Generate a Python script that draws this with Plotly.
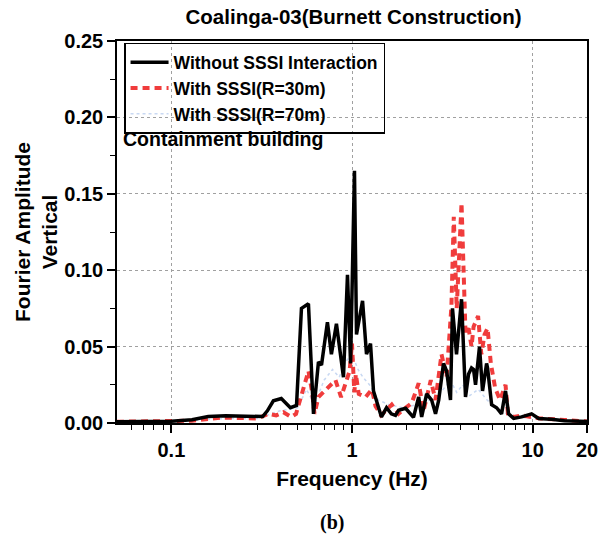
import math
import plotly.graph_objects as go

# Vertical Fourier amplitude spectra, Coalinga-03 record
freq_without = [0.05, 0.07, 0.1, 0.13, 0.16, 0.2, 0.23, 0.27, 0.32, 0.34, 0.367, 0.406, 0.43,
                0.456, 0.493, 0.525, 0.574, 0.612, 0.652, 0.678, 0.731, 0.769, 0.82, 0.897,
                0.944, 0.982, 1.032, 1.059, 1.144, 1.203, 1.266, 1.315, 1.456, 1.553, 1.65,
                1.741, 1.81, 1.98, 2.19, 2.34, 2.43, 2.59, 2.76, 2.90, 3.02, 3.13, 3.21, 3.34,
                3.51, 3.60, 3.79, 4.04, 4.25, 4.42, 4.59, 4.71, 4.83, 5.08, 5.28, 5.42, 5.56,
                5.63, 5.93, 6.32, 6.73, 7.08, 7.36, 7.85, 8.69, 9.87, 10.8, 12.7, 15, 20]
amp_without = [0.0008, 0.0009, 0.0012, 0.0022, 0.0042, 0.0048, 0.0045, 0.0040, 0.0042, 0.0080,
               0.0145, 0.0160, 0.0130, 0.0100, 0.0115, 0.0750, 0.0780, 0.0060, 0.0400, 0.0380,
               0.0660, 0.0450, 0.0650, 0.0300, 0.0970, 0.0390, 0.1650, 0.0580, 0.0800, 0.0450,
               0.0520, 0.0210, 0.0040, 0.0100, 0.0060, 0.0050, 0.0083, 0.0096, 0.0037, 0.0170,
               0.0040, 0.0190, 0.0150, 0.0060, 0.0150, 0.0300, 0.0390, 0.0340, 0.0150, 0.0750,
               0.0450, 0.0810, 0.0170, 0.0320, 0.0360, 0.0350, 0.0250, 0.0500, 0.0210, 0.0300,
               0.0390, 0.0360, 0.0120, 0.0100, 0.0060, 0.0210, 0.0060, 0.0030, 0.0040, 0.0060,
               0.0030, 0.0024, 0.0015, 0.0010]

freq_r30 = [0.05, 0.07, 0.1, 0.13, 0.19, 0.25, 0.3, 0.345, 0.38, 0.417, 0.46, 0.49, 0.52, 0.574,
            0.60, 0.62, 0.652, 0.71, 0.76, 0.81, 0.87, 0.93, 0.97, 1.0, 1.03, 1.05, 1.09, 1.19,
            1.29, 1.35, 1.45, 1.66, 1.81, 1.98, 2.14, 2.34, 2.49, 2.73, 2.90, 3.13, 3.34, 3.55,
            3.66, 3.80, 4.04, 4.25, 4.42, 4.59, 4.71, 4.99, 5.2, 5.42, 5.63, 5.87, 6.2, 6.6,
            7.08, 7.3, 7.85, 8.7, 9.5, 11, 15, 20]
amp_r30 = [0.0008, 0.0009, 0.0010, 0.0015, 0.0035, 0.0030, 0.0030, 0.0060, 0.0050, 0.0070,
           0.0040, 0.0060, 0.0170, 0.0340, 0.0210, 0.0060, 0.0170, 0.0210, 0.0250, 0.0280,
           0.0170, 0.0280, 0.0340, 0.0520, 0.0200, 0.0320, 0.0190, 0.0170, 0.0220, 0.0110,
           0.0050, 0.0120, 0.0060, 0.0100, 0.0130, 0.0260, 0.0080, 0.0280, 0.0150, 0.0450,
           0.0300, 0.0760, 0.1350, 0.0750, 0.1440, 0.0590, 0.0620, 0.0500, 0.0630, 0.0700,
           0.0450, 0.0580, 0.0620, 0.0390, 0.0230, 0.0150, 0.0250, 0.0060, 0.0040, 0.0050,
           0.0040, 0.0030, 0.0020, 0.0010]

freq_r70 = [0.05, 0.1, 0.2, 0.3, 0.4, 0.5, 0.56, 0.62, 0.7, 0.78, 0.85, 0.92, 1.0, 1.08, 1.15,
            1.25, 1.4, 1.6, 1.9, 2.3, 2.7, 3.1, 3.5, 3.8, 4.1, 4.5, 5.0, 5.6, 6.5, 8, 10, 14, 20]
amp_r70 = [0.0008, 0.0010, 0.0030, 0.0030, 0.0080, 0.0100, 0.0220, 0.0120, 0.0280, 0.0350,
           0.0300, 0.0400, 0.0450, 0.0350, 0.0300, 0.0250, 0.0150, 0.0120, 0.0100, 0.0120,
           0.0150, 0.0200, 0.0280, 0.0200, 0.0250, 0.0180, 0.0220, 0.0150, 0.0080, 0.0040,
           0.0030, 0.0020, 0.0010]

series_names = ["Without SSSI Interaction", "With SSSI(R=30m)", "With SSSI(R=70m)"]

x_tickvals = [0.1, 1, 10, 20]
x_ticktext = ["0.1", "1", "10", "20"]
x_minor = [0.06, 0.07, 0.08, 0.09, 0.2, 0.3, 0.4, 0.5, 0.6, 0.7, 0.8, 0.9,
           2, 3, 4, 5, 6, 7, 8, 9]
y_tickvals = [0.0, 0.05, 0.10, 0.15, 0.20, 0.25]
y_ticktext = ["0.00", "0.05", "0.10", "0.15", "0.20", "0.25"]
y_minor = [0.025, 0.075, 0.125, 0.175, 0.225]

SANS = "Liberation Sans, Arial, sans-serif"

fig = go.Figure()
fig.add_trace(go.Scatter(x=freq_r70, y=amp_r70, mode="lines", name=series_names[2],
                         line=dict(color="rgb(200,216,242)", width=1.5, dash="dot")))
fig.add_trace(go.Scatter(x=freq_r30, y=amp_r30, mode="lines", name=series_names[1],
                         line=dict(color="rgb(240,60,60)", width=4, dash="7px,5px")))
fig.add_trace(go.Scatter(x=freq_without, y=amp_without, mode="lines", name=series_names[0],
                         line=dict(color="black", width=3.5)))

fig.update_layout(
    width=610, height=538,
    margin=dict(l=117, r=20, t=41, b=115),
    paper_bgcolor="white", plot_bgcolor="white",
    font=dict(family=SANS, color="black"),
    title=dict(text="Coalinga-03(Burnett Construction)", x=(117 + 590) / 2 / 610,
               xanchor="center", y=1 - 17 / 538, yanchor="middle",
               font=dict(size=20.5, weight="bold", family=SANS)),
    legend=dict(x=0.015, y=0.995, xanchor="left", yanchor="top", traceorder="reversed",
                bgcolor="rgba(255,255,255,0)", bordercolor="black", borderwidth=1.5,
                font=dict(size=17.5, weight="bold", family=SANS),
                itemwidth=38, tracegroupgap=0),
    showlegend=True,
)

fig.update_xaxes(
    type="log", range=[math.log10(0.05), math.log10(20)],
    tickmode="array", tickvals=x_tickvals, ticktext=x_ticktext,
    ticks="outside", ticklen=8, tickwidth=1.5, tickcolor="black",
    tickfont=dict(size=20, weight="bold", family=SANS),
    showline=True, linecolor="black", linewidth=1.5, mirror=True,
    showgrid=True, gridcolor="rgb(160,160,160)", griddash="dot", gridwidth=1,
    minor=dict(tickmode="array", tickvals=x_minor, ticks="outside", ticklen=5,
               tickwidth=1.2, tickcolor="black", showgrid=False),
    zeroline=False,
    title=dict(text="Frequency (Hz)", standoff=12,
               font=dict(size=21, weight="bold", family=SANS)),
)

fig.update_yaxes(
    range=[0, 0.25],
    tickmode="array", tickvals=y_tickvals, ticktext=y_ticktext,
    ticks="outside", ticklen=8, tickwidth=1.5, tickcolor="black",
    tickfont=dict(size=20, weight="bold", family=SANS),
    showline=True, linecolor="black", linewidth=1.5, mirror=True,
    showgrid=True, gridcolor="rgb(160,160,160)", griddash="dot", gridwidth=1,
    minor=dict(tickmode="array", tickvals=y_minor, ticks="outside", ticklen=5,
               tickwidth=1.2, tickcolor="black", showgrid=False),
    zeroline=False,
    title=dict(text="Fourier Amplitude<br>Vertical", standoff=1,
               font=dict(size=21, weight="bold", family=SANS)),
)

fig.add_annotation(text="Containment building", xref="paper", yref="paper",
                   x=0.008, y=0.743, xanchor="left", yanchor="middle", showarrow=False,
                   font=dict(size=19.5, weight="bold", family=SANS))
fig.add_annotation(text="(b)", xref="paper", yref="paper",
                   x=(333 - 117) / 473, y=(423 - 522) / 382, xanchor="center",
                   yanchor="middle", showarrow=False,
                   font=dict(size=20, weight="bold",
                             family="Liberation Serif, Times New Roman, serif"))

fig.write_html("out.html")
